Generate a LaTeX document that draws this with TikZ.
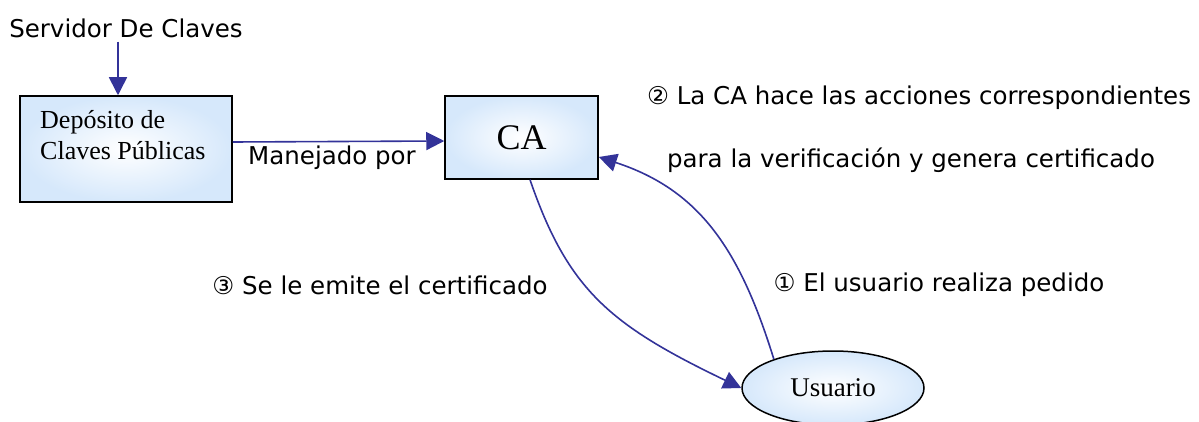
\documentclass[tikz,border=0pt]{standalone}
\usepackage{fontspec}
\setmainfont{Liberation Serif}
\newfontfamily\lbl{DejaVu Sans}
\usetikzlibrary{arrows.meta,shapes.geometric}
\definecolor{lineblue}{RGB}{51,51,153}
\definecolor{boxblue}{RGB}{214,232,251}
\tikzset{
  conn/.style={draw=lineblue, line width=1.6pt, -{Triangle[length=18pt,width=18pt]}},
  boxshape/.style={draw=black, line width=1.5pt, inner color=white, outer color=boxblue},
  lab/.style={font=\lbl\fontsize{24.5}{29}\selectfont, inner sep=0pt, text=black},
}
\begin{document}
\begin{tikzpicture}[x=1pt,y=-1pt]
\useasboundingbox (0,0) rectangle (1199,422);
\node[boxshape, minimum width=212pt, minimum height=106pt] (dep) at (126,149) {};
\node[font=\fontsize{26}{31}\selectfont, align=left, anchor=north west, inner sep=0pt] (deptext) at (40,110) {Depósito de\\Claves Públicas};
\node[boxshape, minimum width=153pt, minimum height=83pt, font=\fontsize{36}{40}\selectfont] (CA) at (521.5,137.5) {CA};
\node[boxshape, ellipse, minimum width=182pt, minimum height=74pt, font=\fontsize{27}{32}\selectfont] (usr) at (833,388) {Usuario};

\node[lab] (serv) at (126,28) {Servidor De Claves};
\node[lab] (manej) at (332,158) {Manejado por};
\node[lab] (paso2a) at (919,98) {② La CA hace las acciones correspondientes};
\node[lab] (paso2b) at (911,160) {para la verificación y genera certificado};
\node[lab] (paso3) at (380,285) {③ Se le emite el certificado};
\node[lab] (paso1) at (939,285) {① El usuario realiza pedido};

\draw[conn] ([xshift=-8pt,yshift=-4pt]serv.south) -- ([xshift=-8pt]dep.north);
\draw[conn] ([yshift=7pt]dep.east) -- ([yshift=-3.5pt]CA.west);
\draw[conn] ([xshift=8.5pt]CA.south) .. controls (568,290) and (610,325) .. (usr.west);
\draw[conn] (usr.154) .. controls (740,250) and (700,190) .. ([yshift=-19.5pt]CA.east);
\end{tikzpicture}
\end{document}
